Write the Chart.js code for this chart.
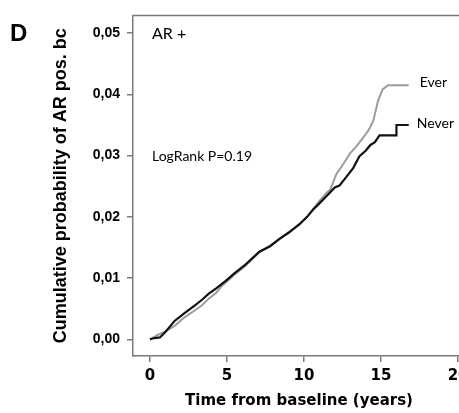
<!DOCTYPE html>
<html>
<head>
<meta charset="utf-8">
<script src="https://cdn.jsdelivr.net/npm/chart.js@4/dist/chart.umd.min.js"></script>
<style>
  body { margin: 0; overflow: hidden; background: #fff; }
  canvas { display: block; }
</style>
</head>
<body>
<canvas id="kmChart" width="480" height="413"></canvas>
<script>
// datos (tiempo en años, probabilidad acumulada)
const tiempoNever = [0, 0.3, 0.65, 1.0, 1.6, 2.2, 2.9, 3.4, 3.8, 4.3, 4.9, 5.5, 6.2, 7.1, 7.8, 8.4, 9.0, 9.7, 10.2, 10.6, 11.0, 11.5, 12.0, 12.3, 12.8, 13.2, 13.6, 14.0, 14.3, 14.6, 14.9, 16.0, 16.0, 16.8];
const probNever  = [0, 0.0002, 0.0003, 0.0012, 0.0030, 0.0042, 0.0055, 0.0065, 0.0074, 0.0083, 0.0095, 0.0108, 0.0122, 0.0143, 0.0152, 0.0164, 0.0174, 0.0188, 0.0200, 0.0212, 0.0222, 0.0235, 0.0248, 0.0251, 0.0267, 0.0280, 0.0299, 0.0308, 0.0317, 0.0322, 0.0333, 0.0333, 0.0350, 0.0350];

const tiempoEver = [0, 0.5, 1.0, 1.6, 2.2, 2.9, 3.4, 3.8, 4.3, 4.7, 5.2, 5.5, 6.2, 7.1, 7.8, 8.4, 9.0, 9.7, 10.2, 10.6, 11.0, 11.5, 11.7, 12.1, 12.3, 12.7, 13.0, 13.4, 13.8, 14.2, 14.5, 14.8, 15.1, 15.45, 16.8];
const probEver   = [0, 0.0007, 0.0013, 0.0022, 0.0035, 0.0047, 0.0056, 0.0066, 0.0076, 0.0088, 0.0099, 0.0106, 0.0120, 0.0142, 0.0153, 0.0163, 0.0175, 0.0187, 0.0200, 0.0213, 0.0226, 0.0240, 0.0244, 0.0270, 0.0277, 0.0292, 0.0304, 0.0315, 0.0328, 0.0342, 0.0357, 0.0389, 0.0408, 0.0415, 0.0415];

const ticksX = [0, 5, 10, 15, 20];
const ticksY = [0, 0.01, 0.02, 0.03, 0.04, 0.05];

const etiquetaPanel = 'D';
const etiquetaGrupo = 'AR +';
const etiquetaLogRank = 'LogRank P=0.19';
const nombreNever = 'Never';
const nombreEver = 'Ever';

const colorEje = '#7a7a7a';

function puntos(xs, ys) {
    return xs.map((x, i) => ({ x: x, y: ys[i] }));
}

// marco superior + textos
const textos = {
    id: 'textos',
    afterDraw(chart) {
        const ctx = chart.ctx;
        const area = chart.chartArea;
        const sx = chart.scales.x;
        const sy = chart.scales.y;
        ctx.save();
        ctx.strokeStyle = colorEje;
        ctx.lineWidth = 1.5;
        ctx.beginPath();
        ctx.moveTo(area.left, area.top);
        ctx.lineTo(area.right, area.top);
        ctx.stroke();

        ctx.fillStyle = '#000';
        ctx.textBaseline = 'middle';
        ctx.font = 'bold 24px "Liberation Sans", Arial';
        ctx.fillText(etiquetaPanel, 10, 34);

        ctx.font = '16px Lato, "Open Sans", sans-serif';
        ctx.fillText(etiquetaGrupo, area.left + 19, 34);
        ctx.font = '14px Lato, "Open Sans", sans-serif';
        ctx.fillText(etiquetaLogRank, area.left + 19, 156);

        ctx.font = '14px Lato, "Open Sans", sans-serif';
        const n = tiempoEver.length - 1;
        ctx.fillText(nombreEver, sx.getPixelForValue(tiempoEver[n]) + 11, sy.getPixelForValue(probEver[n]) - 3);
        const m = tiempoNever.length - 1;
        ctx.fillText(nombreNever, sx.getPixelForValue(tiempoNever[m]) + 8, sy.getPixelForValue(probNever[m]) - 2);
        ctx.restore();
    }
};

const ctx = document.getElementById('kmChart').getContext('2d');
const kmChart = new Chart(ctx, {
    type: 'line',
    data: {
        datasets: [{
            label: nombreNever,
            data: puntos(tiempoNever, probNever),
            borderColor: '#111111',
            borderWidth: 2.2,
            pointRadius: 0,
            tension: 0,
            fill: false
        }, {
            label: nombreEver,
            data: puntos(tiempoEver, probEver),
            borderColor: '#9c9c9c',
            borderWidth: 2,
            pointRadius: 0,
            tension: 0,
            fill: false
        }]
    },
    options: {
        responsive: false,
        animation: false,
        devicePixelRatio: 1,
        layout: { padding: { top: 10, right: 15, bottom: 0, left: 0 } },
        plugins: {
            legend: { display: false },
            tooltip: { enabled: false }
        },
        scales: {
            x: {
                type: 'linear',
                min: -1.1,
                max: 20.45,
                afterFit(scale) { scale.height = 57; },
                afterBuildTicks(scale) { scale.ticks = ticksX.map(v => ({ value: v })); },
                border: { color: colorEje, width: 1.5 },
                grid: { drawOnChartArea: false, drawTicks: true, tickLength: 6, color: colorEje, lineWidth: 1.5 },
                ticks: {
                    color: '#000',
                    padding: 5,
                    maxRotation: 0,
                    font: { family: '"DejaVu Sans"', size: 15, weight: 'bold' },
                    callback: v => String(v)
                },
                title: {
                    display: true,
                    text: 'Time from baseline (years)',
                    color: '#000',
                    font: { family: '"DejaVu Sans"', size: 15, weight: 'bold' },
                    padding: { top: 0, bottom: 3 }
                }
            },
            y: {
                min: -0.00273,
                max: 0.0529,
                afterFit(scale) { scale.width = 133; },
                afterBuildTicks(scale) { scale.ticks = ticksY.map(v => ({ value: v })); },
                border: { color: colorEje, width: 1.5 },
                grid: { drawOnChartArea: false, drawTicks: true, tickLength: 6, color: colorEje, lineWidth: 1.5 },
                ticks: {
                    color: '#000',
                    padding: 7,
                    font: { family: '"Liberation Sans"', size: 14, weight: 'bold' },
                    callback: v => v.toFixed(2).replace('.', ',')
                },
                title: {
                    display: true,
                    text: 'Cumulative probability of AR pos. bc',
                    color: '#000',
                    font: { family: '"Liberation Sans"', size: 18, weight: 'bold' },
                    padding: { top: 50, bottom: 0 }
                }
            }
        }
    },
    plugins: [textos]
});
</script>
</body>
</html>
